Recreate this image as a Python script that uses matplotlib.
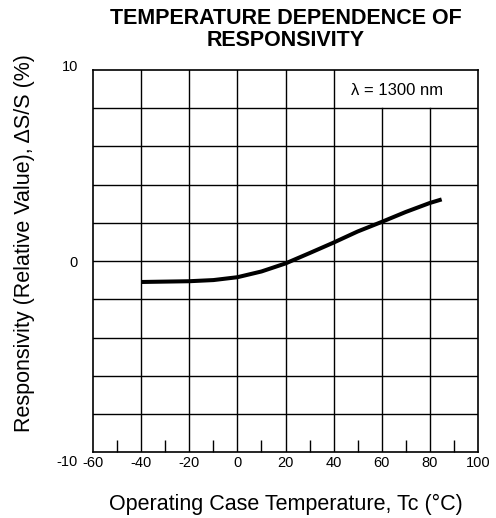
import matplotlib
matplotlib.use("Agg")
import matplotlib.pyplot as plt
from matplotlib.transforms import ScaledTranslation
import numpy as np

plt.rcParams['font.family'] = ['Liberation Sans', 'DejaVu Sans']

# curve
temp_c = [-40, -20, -10, 0, 10, 20, 30, 40, 50, 60, 70, 80, 85]
resp_pct = [-1.09, -1.05, -0.99, -0.84, -0.54, -0.12, 0.42, 0.97, 1.55, 2.05, 2.57, 3.04, 3.23]

x_ticks = [-60, -40, -20, 0, 20, 40, 60, 80, 100]
x_minor = [-50, -30, -10, 10, 30, 50, 70, 90]
y_ticks = [-10, 0, 10]
y_grid = [-8, -6, -4, -2, 0, 2, 4, 6, 8]

fig = plt.figure(figsize=(4.96, 5.18), dpi=100)
ax = fig.add_axes([93.3 / 496, 1 - 452.3 / 518, 384.4 / 496, 382.3 / 518])
ax.set_xlim(-60, 100)
ax.set_ylim(-10, 10)

# grid drawn by hand so the top-right cell stays open for the wavelength note
for y in y_grid:
    ax.axhline(y, color='black', lw=1.0, zorder=1)
for x in x_ticks[1:-1]:
    top = 0.9 if x > 40 else 1.0
    ax.axvline(x, ymin=0, ymax=top, color='black', lw=1.0, zorder=1)

ax.plot(temp_c, resp_pct, color='black', lw=2.9, solid_capstyle='butt', zorder=3)

ax.text(66.6, 8.92, '\u03bb = 1300 nm', ha='center', va='center', fontsize=12)

for s in ax.spines.values():
    s.set_linewidth(1.2)

ax.set_xticks(x_ticks)
ax.set_xticklabels([str(v) for v in x_ticks])
ax.set_xticks(x_minor, minor=True)
ax.set_yticks(y_ticks)
ax.set_yticklabels([str(v) for v in y_ticks])
ax.tick_params(axis='x', which='major', length=0, pad=3, labelsize=10.5)
ax.tick_params(axis='x', which='minor', direction='in', length=8.5, width=1.0)
ax.tick_params(axis='y', length=0, pad=11, labelsize=10.5)

# the scanned y labels sit a bit off their lines
y_shift = {-10: -8, 0: 0, 10: 5}
for lab, v in zip(ax.get_yticklabels(), y_ticks):
    lab.set_transform(lab.get_transform() + ScaledTranslation(0, y_shift[v] / 100, fig.dpi_scale_trans))

ax.set_xlabel('Operating Case Temperature, Tc (\u00b0C)', fontsize=15.5, labelpad=17)
ax.set_ylabel('Responsivity (Relative Value), \u0394S/S (%)', fontsize=15.5)
ax.yaxis.set_label_coords(-0.152, 0.5475)
ax.set_title('TEMPERATURE DEPENDENCE OF\nRESPONSIVITY', fontsize=15.5, fontweight='bold',
             linespacing=1.08, pad=17)

fig.savefig('out.png', dpi=100)
